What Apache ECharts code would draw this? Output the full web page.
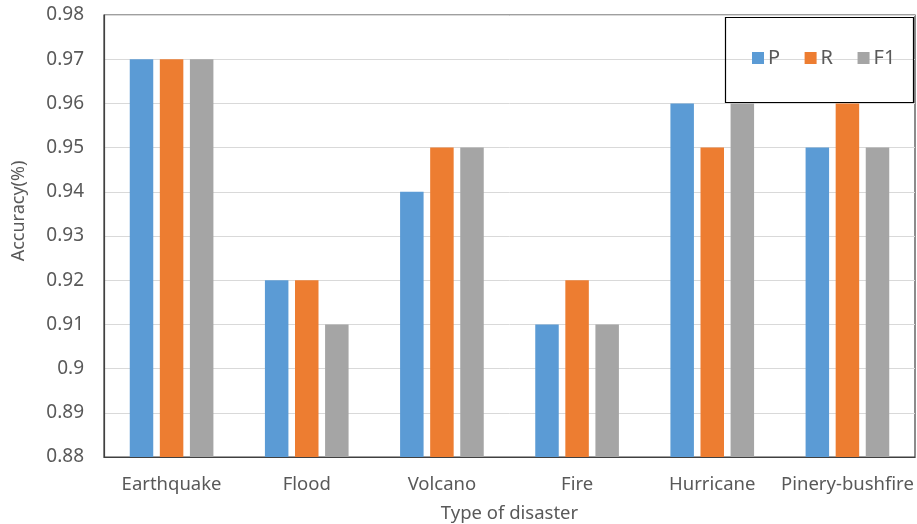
<!DOCTYPE html>
<html>
<head>
<meta charset="utf-8">
<script src="https://cdn.jsdelivr.net/npm/echarts@6/dist/echarts.min.js"></script>
<style>
  html, body { margin: 0; padding: 0; background: #fff; overflow: hidden; }
  #chart { width: 917px; height: 524px; }
</style>
</head>
<body>
<div id="chart"></div>
<script>
// Disaster types along the x axis
const categories = ['Earthquake', 'Flood', 'Volcano', 'Fire', 'Hurricane', 'Pinery-bushfire'];

// Precision, recall and F1 per disaster type
const precision = [0.97, 0.92, 0.94, 0.91, 0.96, 0.95];
const recall    = [0.97, 0.92, 0.95, 0.92, 0.95, 0.96];
const f1        = [0.97, 0.91, 0.95, 0.91, 0.96, 0.95];

const seriesNames = ['P', 'R', 'F1'];
const seriesColors = ['#5B9BD5', '#ED7D31', '#A5A5A5'];

const font = 'Noto Sans, Open Sans, sans-serif';
const textColor = '#595959';

const chart = echarts.init(document.getElementById('chart'), null, { renderer: 'canvas' });

chart.setOption({
  animation: false,
  backgroundColor: '#fff',
  textStyle: { fontFamily: font },
  grid: {
    left: 104, right: 2, top: 15, bottom: 67,
    containLabel: false,
    outerBoundsMode: 'none',
    show: true, borderColor: '#404040', borderWidth: 1.2
  },
  graphic: [{
    type: 'rect',
    right: 1, top: 15,
    shape: { width: 188, height: 85 },
    style: { fill: 'none', stroke: '#000', lineWidth: 1.2 },
    z: 10
  }],
  legend: {
    left: 752, top: 46, padding: 0,
    itemWidth: 12, itemHeight: 12, itemGap: 24.5,
    icon: 'rect',
    textStyle: { fontSize: 20, lineHeight: 24, color: textColor, fontFamily: font, padding: [0, 0, 0, -1] },
    data: seriesNames
  },
  xAxis: {
    type: 'category',
    data: categories,
    name: 'Type of disaster',
    nameLocation: 'middle',
    nameGap: 47,
    nameTextStyle: { fontSize: 18.5, color: textColor },
    axisLine: { lineStyle: { color: '#404040', width: 1.2 } },
    axisTick: { show: false },
    axisLabel: { fontSize: 18.5, color: textColor, margin: 18, interval: 0 }
  },
  yAxis: {
    type: 'value',
    min: 0.88, max: 0.98, interval: 0.01,
    name: 'Accuracy(%)',
    nameLocation: 'middle',
    nameGap: 76,
    nameTextStyle: { fontSize: 18, color: textColor, padding: [0, 0, 0, 50] },
    axisLine: { show: true, lineStyle: { color: '#404040', width: 1.2 } },
    axisTick: { show: false },
    axisLabel: {
      fontSize: 19, color: textColor, margin: 20,
      formatter: v => String(parseFloat(v.toFixed(2)))
    },
    splitLine: { lineStyle: { color: '#D9D9D9', width: 1 } }
  },
  series: [precision, recall, f1].map((values, i) => ({
    name: seriesNames[i],
    type: 'bar',
    data: values,
    barWidth: 23.5,
    barGap: '28%',
    itemStyle: { color: seriesColors[i] }
  }))
});
</script>
</body>
</html>
